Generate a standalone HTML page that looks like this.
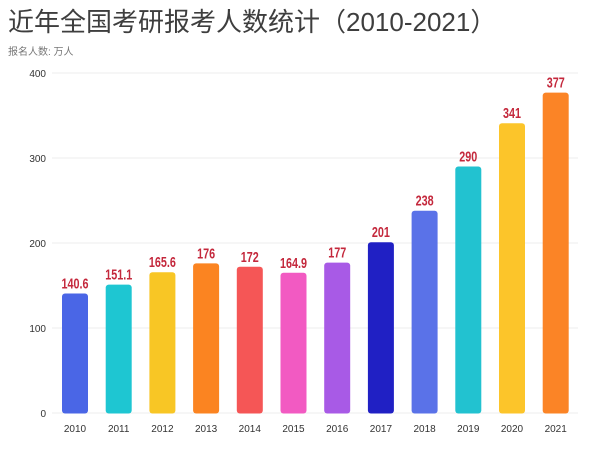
<!DOCTYPE html>
<html><head><meta charset="utf-8"><style>
body{margin:0;background:#fff;width:600px;height:449px;overflow:hidden}
svg{display:block}
</style></head><body>
<svg width="600" height="449" viewBox="0 0 600 449" xmlns="http://www.w3.org/2000/svg">
<text x="8" y="31" font-family="'Liberation Sans','Noto Sans CJK SC',sans-serif" font-size="26" fill="#3e3e3e">近年全国考研报考人数统计（2010-2021）</text>
<text x="8" y="55" font-family="'Liberation Sans','Noto Sans CJK SC',sans-serif" font-size="10" fill="#777">报名人数: 万人</text>
<g stroke="#ececec" stroke-width="1">
<line x1="52" x2="578" y1="73" y2="73"/><line x1="52" x2="578" y1="158" y2="158"/>
<line x1="52" x2="578" y1="243" y2="243"/><line x1="52" x2="578" y1="328" y2="328"/>
<line x1="52" x2="578" y1="413" y2="413"/></g>
<g font-family="'Liberation Sans',sans-serif" font-size="10" fill="#333" text-anchor="end">
<text x="46" y="77">400</text><text x="46" y="162">300</text><text x="46" y="247">200</text><text x="46" y="332">100</text><text x="46" y="417">0</text></g>
<g>
<rect x="62" y="293.5" width="26" height="120" rx="3" fill="#4a66e6"/>
<rect x="105.7" y="284.6" width="26" height="128.9" rx="3" fill="#1ec6d2"/>
<rect x="149.4" y="272.2" width="26" height="141.3" rx="3" fill="#f8c625"/>
<rect x="193.1" y="263.4" width="26" height="150.1" rx="3" fill="#fb8421"/>
<rect x="236.8" y="266.8" width="26" height="146.7" rx="3" fill="#f55656"/>
<rect x="280.5" y="272.8" width="26" height="140.7" rx="3" fill="#f25ac2"/>
<rect x="324.2" y="262.6" width="26" height="150.9" rx="3" fill="#a85ae6"/>
<rect x="367.9" y="242.2" width="26" height="171.3" rx="3" fill="#2020c4"/>
<rect x="411.6" y="210.7" width="26" height="202.8" rx="3" fill="#5a72e8"/>
<rect x="455.3" y="166.5" width="26" height="247" rx="3" fill="#22c2d0"/>
<rect x="499" y="123.2" width="26" height="290.3" rx="3" fill="#fcc52a"/>
<rect x="542.7" y="92.6" width="26" height="320.9" rx="3" fill="#fb8426"/>
</g>
<g font-family="'Liberation Sans',sans-serif" font-weight="bold" font-size="15" fill="#c4283c" text-anchor="middle">
<text transform="translate(75 288.5) scale(0.72 1)">140.6</text>
<text transform="translate(118.7 279.6) scale(0.72 1)">151.1</text>
<text transform="translate(162.4 267.2) scale(0.72 1)">165.6</text>
<text transform="translate(206.1 258.4) scale(0.72 1)">176</text>
<text transform="translate(249.8 261.8) scale(0.72 1)">172</text>
<text transform="translate(293.5 267.8) scale(0.72 1)">164.9</text>
<text transform="translate(337.2 257.6) scale(0.72 1)">177</text>
<text transform="translate(380.9 237.2) scale(0.72 1)">201</text>
<text transform="translate(424.6 205.7) scale(0.72 1)">238</text>
<text transform="translate(468.3 161.5) scale(0.72 1)">290</text>
<text transform="translate(512 118.2) scale(0.72 1)">341</text>
<text transform="translate(555.7 87.6) scale(0.72 1)">377</text>
</g>
<g font-family="'Liberation Sans',sans-serif" font-size="10" fill="#333" text-anchor="middle">
<text x="75" y="432">2010</text><text x="118.7" y="432">2011</text><text x="162.4" y="432">2012</text><text x="206.1" y="432">2013</text>
<text x="249.8" y="432">2014</text><text x="293.5" y="432">2015</text><text x="337.2" y="432">2016</text><text x="380.9" y="432">2017</text>
<text x="424.6" y="432">2018</text><text x="468.3" y="432">2019</text><text x="512" y="432">2020</text><text x="555.7" y="432">2021</text>
</g>
</svg>
</body></html>
